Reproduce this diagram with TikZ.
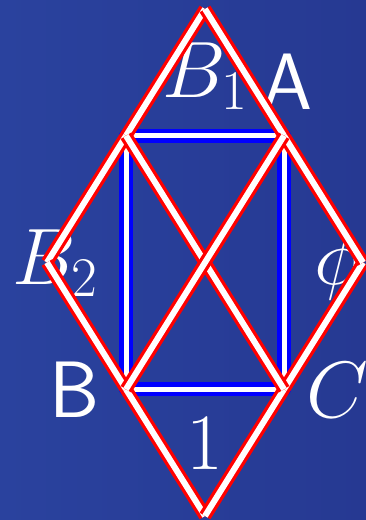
\RequirePackage{fix-cm}
\documentclass[tikz,border=0pt]{standalone}
\usetikzlibrary{calc}
\begin{document}
\begin{tikzpicture}[x=1pt,y=1pt,
  redline/.style={draw=red, line width=3.3pt, double=white, double distance=6pt},
  blueline/.style={draw=blue, line width=4.5pt, double=white, double distance=5pt, line join=round},
  lbl/.style={text=white, inner sep=0pt, anchor=base, font=\fontsize{80}{96}\selectfont}]
\definecolor{bgl}{RGB}{42,66,158}
\definecolor{bgr}{RGB}{38,57,146}
\shade[left color=bgl, right color=bgr] (0,0) rectangle (366,520);
\useasboundingbox (0,0) rectangle (366,520);
% rhombus vertices
\coordinate (T) at (205,511);
\coordinate (L) at (47,257.5);
\coordinate (R) at (363,257.5);
\coordinate (Bo) at (205,4);
% rectangle corners (midpoints of the sides)
\coordinate (TL) at ($(T)!0.5!(L)$);
\coordinate (TR) at ($(T)!0.5!(R)$);
\coordinate (BL) at ($(Bo)!0.5!(L)$);
\coordinate (BR) at ($(Bo)!0.5!(R)$);
% labels (below the lines)
\node[lbl] (lB1) at (205,422) {$B_1$};
\node[lbl] (lA) at (287.5,410) {\sffamily A};
\node[lbl] (lB2) at (55,235) {$B_2$};
\node[lbl] (lphi) at (338,235) {$\phi$};
\node[lbl] (lB) at (74.5,102) {\sffamily B};
\node[lbl, anchor=base west] (lC) at (306,102) {$C$};
\node[lbl] (l1) at (205,50) {$1$};
% lines
\draw[blueline] (TL) -- (TR) -- (BR) -- (BL) -- cycle;
\draw[redline] (T) -- (TL);
\draw[redline] (TL) -- (L);
\draw[redline] (L) -- (BL);
\draw[redline] (BL) -- (Bo);
\draw[redline] (Bo) -- (BR);
\draw[redline] (BR) -- (R);
\draw[redline] (R) -- (TR);
\draw[redline] (TR) -- (T);
\draw[redline] (TL) -- (BR);
\draw[redline] (TR) -- (BL);
\end{tikzpicture}
\end{document}
